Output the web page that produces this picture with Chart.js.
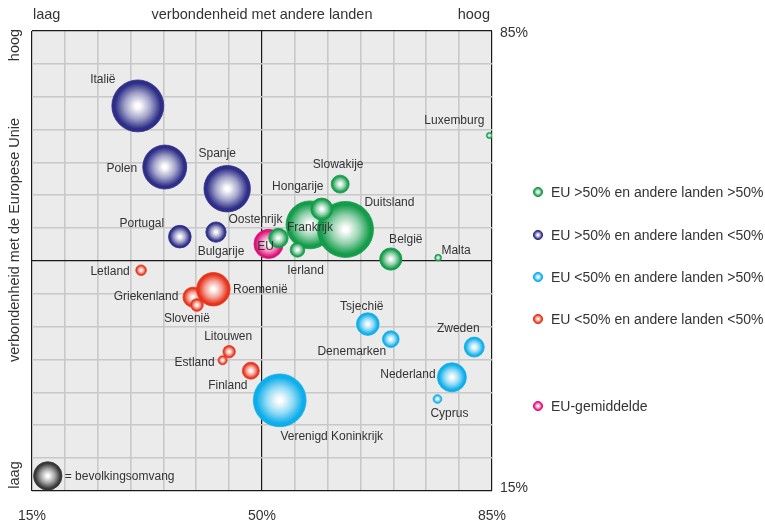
<!DOCTYPE html>
<html lang="nl">
<head>
<meta charset="UTF-8">
<title>Verbondenheid</title>
<script src="https://cdn.jsdelivr.net/npm/chart.js"></script>
<style>
  html, body { margin: 0; padding: 0; background: #fff; }
  #wrap { width: 765px; height: 522px; position: relative; }
</style>
</head>
<body>
<div id="wrap"><canvas id="chart" width="765" height="522"></canvas></div>
<script>
// ---- data ----
const countries = ['Italië', 'Polen', 'Spanje', 'Portugal', 'Bulgarije',
  'Frankrijk', 'Duitsland', 'Hongarije', 'Slowakije', 'Oostenrijk', 'Ierland', 'België', 'Malta', 'Luxemburg',
  'Tsjechië', 'Denemarken', 'Zweden', 'Nederland', 'Cyprus', 'Verenigd Koninkrijk',
  'Griekenland', 'Slovenië', 'Roemenië', 'Finland', 'Estland', 'Litouwen', 'Letland',
  'EU'];
// verbondenheid met andere landen (%)
const otherLinks = [31.1, 35.2, 44.7, 37.5, 43.0,
  57.3, 62.7, 59.1, 61.9, 52.5, 55.4, 69.6, 76.8, 84.6,
  66.1, 69.6, 82.3, 78.9, 76.7, 52.7,
  39.5, 40.1, 42.6, 48.3, 44.0, 45.0, 31.6,
  51.0];
// verbondenheid met de Europese Unie (%)
const euLinks = [73.6, 64.3, 61.0, 53.7, 54.4,
  55.5, 54.8, 57.9, 61.7, 53.5, 51.7, 50.3, 50.5, 69.1,
  40.4, 38.1, 36.9, 32.3, 29.0, 28.8,
  44.5, 43.3, 45.7, 33.3, 34.9, 36.2, 48.6,
  52.6];
// bevolkingsomvang (mln, geschat uit bolgrootte)
const population = [60, 43, 48, 11.4, 9.2,
  51, 70, 10.8, 7.2, 8.4, 4.8, 11, 1, 0.8,
  11.4, 6.2, 8.9, 18.7, 1.7, 62,
  8.9, 3.5, 24.8, 6.4, 1.8, 3.4, 2.5,
  19];
// groep: 0..3 = kwadrant, 4 = EU-gemiddelde
const groups = [1, 1, 1, 1, 1,
  0, 0, 0, 0, 0, 0, 0, 0, 0,
  2, 2, 2, 2, 2, 2,
  3, 3, 3, 3, 3, 3, 3,
  4];
const groupNames = ['EU >50% en andere landen >50%', 'EU >50% en andere landen <50%',
  'EU <50% en andere landen >50%', 'EU <50% en andere landen <50%', 'EU-gemiddelde'];
const sizeKey = { x: 17.4, y: 17.3, pop: 18, label: '= bevolkingsomvang' };
const axisTicks = [15, 50, 85];

// ---- styles ----
const groupColors = ['#149c4a', '#2e2e88', '#0eaeea', '#e8321a', '#e0127a'];
const keyColor = '#383838';
// label offsets (px) from bubble centre, same order as countries
const labelOffsets = [[-35, -26], [-43, 2], [-10, -35], [-38, -13], [5, 20],
  [0, 3], [44, -27], [-24, -22], [-2, -19], [-23, -18], [8, 21], [15, -19], [18, -7], [-35, -15],
  [-6, -17], [-39, 12], [-16, -18], [-44, -3], [12, 15], [52, 36],
  [-47, 0], [-10, 14], [47, 0], [-23, 15], [-28, 2], [-1, -15], [-31, 1],
  [-3, 3]];
const FONT = '"Liberation Sans", Arial, sans-serif';
const TEXT = '#333';

function radius(p) { return 3.35 * Math.sqrt(p); }

function mix(hex, t) {
  // t = share of white
  const n = parseInt(hex.slice(1), 16);
  const r = n >> 16, g = (n >> 8) & 255, b = n & 255;
  const m = v => Math.round(v + (255 - v) * t);
  return 'rgb(' + m(r) + ',' + m(g) + ',' + m(b) + ')';
}

function addStops(g, color) {
  g.addColorStop(0, '#ffffff');
  g.addColorStop(0.1, '#fcfcfc');
  g.addColorStop(0.5, mix(color, 0.55));
  g.addColorStop(0.88, color);
  g.addColorStop(1, color);
}

function ballFill(color) {
  return function (ctx) {
    const chart = ctx.chart;
    const raw = ctx.raw;
    if (!raw || !chart.chartArea) return color;
    const x = chart.scales.x.getPixelForValue(raw.x);
    const y = chart.scales.y.getPixelForValue(raw.y);
    const g = chart.ctx.createRadialGradient(x, y, 0, x, y, raw.r);
    addStops(g, color);
    return g;
  };
}

const datasets = [];
// order: lower order is drawn on top
const drawOrder = [0, 3, 2, 4, 1];
for (let gi = 0; gi < 5; gi++) {
  const pts = [];
  countries.forEach((c, i) => {
    if (groups[i] === gi) pts.push({ x: otherLinks[i], y: euLinks[i], r: radius(population[i]), name: c, idx: i });
  });
  datasets.push({
    label: groupNames[gi],
    data: pts,
    backgroundColor: ballFill(groupColors[gi]),
    borderColor: groupColors[gi],
    borderWidth: 0.8,
    order: drawOrder[gi]
  });
}
datasets.push({
  label: 'key',
  data: [{ x: sizeKey.x, y: sizeKey.y, r: radius(sizeKey.pop) }],
  backgroundColor: ballFill(keyColor),
  borderColor: keyColor,
  borderWidth: 0.8,
  order: 5
});

const bgPlugin = {
  id: 'bg',
  beforeDraw(chart) {
    const a = chart.chartArea, c = chart.ctx;
    c.save();
    c.fillStyle = '#ebebeb';
    c.fillRect(a.left, a.top, a.right - a.left, a.bottom - a.top);
    c.restore();
  }
};

const textPlugin = {
  id: 'texts',
  afterDatasetsDraw(chart) {
    const c = chart.ctx, a = chart.chartArea;
    const xs = chart.scales.x, ys = chart.scales.y;
    c.save();
    c.fillStyle = TEXT;
    c.textBaseline = 'middle';
    c.textAlign = 'center';
    // country labels
    c.font = '12px ' + FONT;
    chart.data.datasets.forEach((ds, di) => {
      const meta = chart.getDatasetMeta(di);
      ds.data.forEach((p, j) => {
        if (p.name === undefined) return;
        const el = meta.data[j];
        const off = labelOffsets[p.idx];
        c.fillText(p.name, el.x + off[0], el.y + off[1]);
      });
    });
    // size key
    const keyEl = chart.getDatasetMeta(chart.data.datasets.length - 1).data[0];
    c.textAlign = 'left';
    c.fillText(sizeKey.label, keyEl.x + 17, keyEl.y + 1);

    // axis texts
    c.font = '14.5px ' + FONT;
    c.textAlign = 'left';
    c.fillText('laag', a.left + 1, 15);
    c.textAlign = 'center';
    c.fillText('verbondenheid met andere landen', xs.getPixelForValue(50), 15);
    c.textAlign = 'right';
    c.fillText('hoog', a.right - 2, 15);

    c.save();
    c.translate(15, 0);
    c.rotate(-Math.PI / 2);
    c.textAlign = 'center';
    c.fillText('hoog', -45, 0);
    c.fillText('verbondenheid met de Europese Unie', -240, 0);
    c.fillText('laag', -475, 0);
    c.restore();

    // percent labels
    c.font = '14px ' + FONT;
    c.textAlign = 'center';
    axisTicks.forEach(v => c.fillText(v + '%', xs.getPixelForValue(v), 516));
    c.textAlign = 'left';
    c.fillText(axisTicks[2] + '%', a.right + 8, ys.getPixelForValue(85) + 2);
    c.fillText(axisTicks[0] + '%', a.right + 8, ys.getPixelForValue(15) - 3);

    // legend
    const rowsY = [192, 235, 277, 319, 406];
    c.font = '14px ' + FONT;
    groupNames.forEach((n, i) => {
      const cx = 538, cy = rowsY[i], r = 4.6;
      const g = c.createRadialGradient(cx, cy, 0, cx, cy, r);
      addStops(g, groupColors[i]);
      c.beginPath();
      c.arc(cx, cy, r, 0, Math.PI * 2);
      c.fillStyle = g;
      c.fill();
      c.lineWidth = 1;
      c.strokeStyle = groupColors[i];
      c.stroke();
      c.fillStyle = TEXT;
      c.textAlign = 'left';
      c.fillText(n, 551, cy + 1);
    });
    c.restore();
  }
};

function gridColor(ctx) {
  const v = ctx.tick && ctx.tick.value;
  return (v === 15 || v === 50 || v === 85) ? '#1a1a1a' : '#c8c8c8';
}
function gridWidth(ctx) {
  const v = ctx.tick && ctx.tick.value;
  return (v === 15 || v === 50 || v === 85) ? 1.2 : 1.6;
}

new Chart(document.getElementById('chart'), {
  type: 'bubble',
  data: { datasets: datasets },
  options: {
    responsive: false,
    animation: false,
    events: [],
    layout: { padding: { left: 32, top: 31, right: 273, bottom: 31 } },
    plugins: { legend: { display: false }, tooltip: { enabled: false } },
    scales: {
      x: {
        type: 'linear', min: 15, max: 85,
        ticks: { display: false, stepSize: 5 },
        grid: { color: gridColor, lineWidth: gridWidth, drawTicks: false },
        border: { display: false }
      },
      y: {
        type: 'linear', min: 15, max: 85,
        ticks: { display: false, stepSize: 5 },
        grid: { color: gridColor, lineWidth: gridWidth, drawTicks: false },
        border: { display: false }
      }
    }
  },
  plugins: [bgPlugin, textPlugin]
});
</script>
</body>
</html>
